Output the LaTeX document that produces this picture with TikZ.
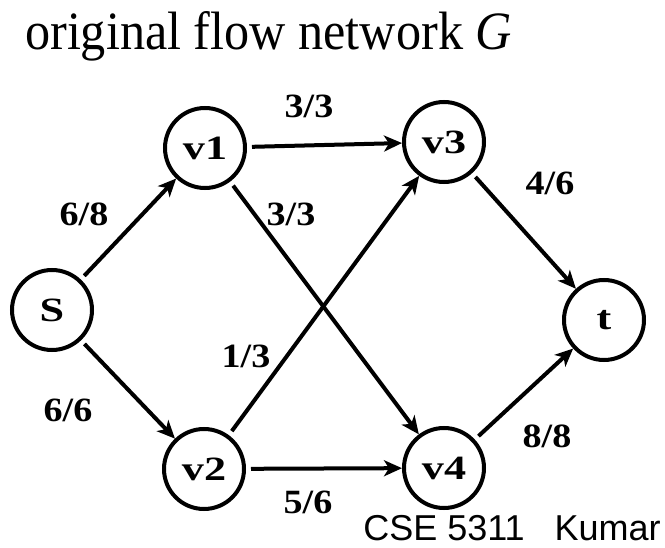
\documentclass[tikz,border=0pt]{standalone}
\usepackage{fontspec}
\setmainfont{Liberation Serif}
\newfontfamily\arialfont{Liberation Sans}
\newfontfamily\vertfont[FakeStretch=1.3]{Liberation Serif}
\newfontfamily\labelfont[FakeStretch=1.12]{Liberation Serif}
\usetikzlibrary{arrows.meta}

\tikzset{
  vert/.style={draw, circle, line width=4pt, minimum size=80pt, inner sep=0pt, font=\vertfont\fontsize{34}{34}\selectfont\bfseries},
  flow/.style={line width=4pt, -{Stealth[length=18pt, width=16pt, inset=5pt]}, shorten <=5pt},
  flowlabel/.style={font=\labelfont\fontsize{34}{34}\selectfont\bfseries}
}

\begin{document}
\begin{tikzpicture}[x=1pt, y=-1pt]
\useasboundingbox (0,0) rectangle (665,548);
% title
\node[anchor=base west, inner sep=0pt, xscale=0.93, font=\fontsize{54}{54}\selectfont] (title) at (25,50) {original flow network \textit{G}};
% vertices
\node[vert] (s) at (52,310) {S};
\node[vert] (v1) at (205,148) {v1};
\node[vert] (v2) at (204,469) {v2};
\node[vert] (v3) at (444,142) {v3};
\node[vert] (v4) at (444,468) {v4};
\node[vert] (t) at (604,320) {t};
% edges
\draw[flow] (s) -- (v1);
\draw[flow] (s) -- (v2);
\draw[flow] (v1) -- (v3);
\draw[flow] (v1) -- (v4);
\draw[flow] (v2) -- (v3);
\draw[flow] (v2) -- (v4);
\draw[flow] (v3) -- (t);
\draw[flow] (v4) -- (t);
%Text
\node[flowlabel] (c13) at (309,106) {3/3};
\node[flowlabel] (c1) at (84,214) {6/8};
\node[flowlabel] (c14) at (291,214) {3/3};
\node[flowlabel] (c3t) at (550,183) {4/6};
\node[flowlabel] (c23) at (246,356) {1/3};
\node[flowlabel] (c2) at (68,410) {6/6};
\node[flowlabel] (c4t) at (547,436) {8/8};
\node[flowlabel] (c24) at (308,502) {5/6};
\node[anchor=base east, inner sep=0pt, font=\arialfont\fontsize{36}{36}\selectfont] (credit) at (661,540) {CSE 5311\hspace{30pt}Kumar};
\end{tikzpicture}
\end{document}
